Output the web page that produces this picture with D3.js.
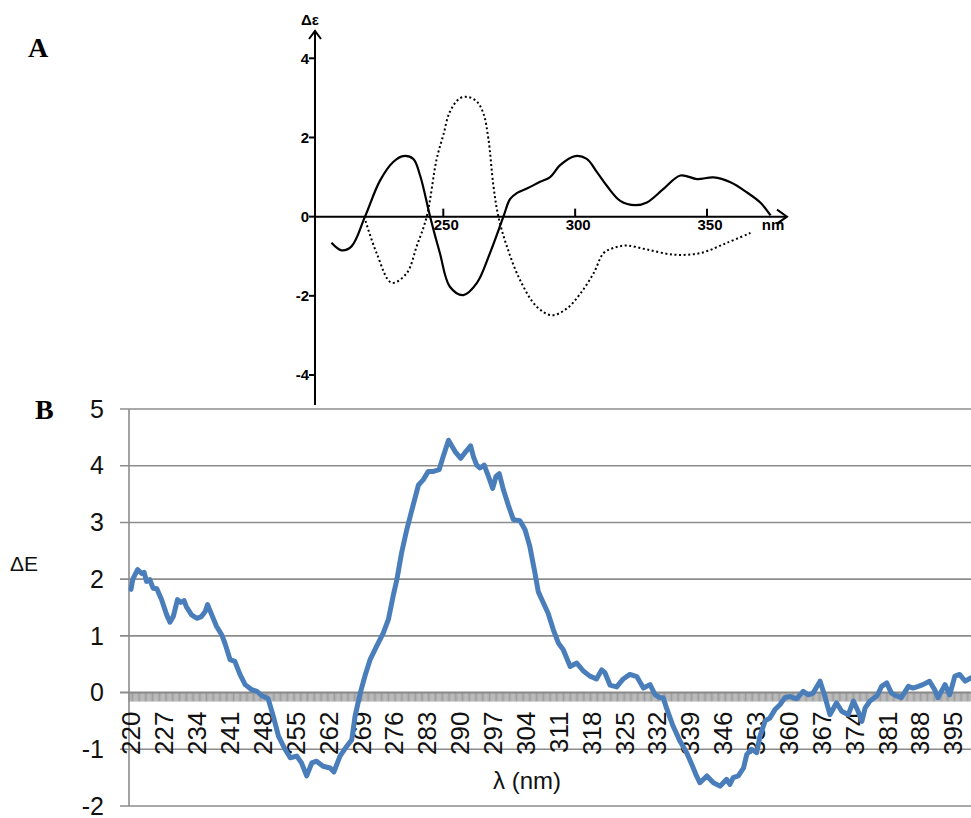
<!DOCTYPE html>
<html><head><meta charset="utf-8">
<script src="https://cdn.jsdelivr.net/npm/d3@7"></script>
<style>body{margin:0;background:#fff}svg{display:block}</style>
</head><body>
<svg id="chart" width="971" height="818"></svg>
<script>
// ---------- Panel A data (literature CD spectra) ----------
const aSolidWl = [207.6,211.4,215.2,220.3,226,231,234.8,238.6,241.2,245,248.7,252.5,257.6,262.7,267.7,272.8,275.3,278,281.7,286.7,290.5,294.3,300,304.4,308.2,312,317.1,322.8,327.2,333.5,339.9,346.2,352.5,358.9,365.2,370.3,374.1];
const aSolid   = [-0.66,-0.85,-0.75,0,0.91,1.38,1.53,1.46,1.04,0,-0.92,-1.77,-1.98,-1.68,-0.92,0,0.44,0.6,0.71,0.88,1.0,1.3,1.53,1.46,1.13,0.78,0.4,0.29,0.36,0.7,1.04,0.95,0.99,0.87,0.61,0.35,0.03];
const aDotWl   = [220,224.7,230.4,236.1,239.9,243.7,247.5,250,252.5,256.3,259.5,262.7,265.2,267.1,269,270.9,274.1,279.1,285.5,291.1,296.9,302,307,310.8,314.6,319.6,327.2,337.4,347.5,357.6,366.5];
const aDotted  = [0,-0.92,-1.67,-1.43,-0.75,0,1.46,2.06,2.65,2.99,3.02,2.91,2.61,1.97,0.78,0,-0.75,-1.6,-2.28,-2.49,-2.32,-1.94,-1.43,-0.92,-0.79,-0.73,-0.83,-0.96,-0.92,-0.66,-0.41];
const aYTicks = [4,2,0,-2,-4];
const aXTicks = [250,300,350];

// ---------- Panel B data (measured spectrum) ----------
const bWl = [220.0,220.4,221.4,222.3,222.8,223.3,224.0,224.7,225.5,226.5,227.6,228.3,229.0,229.9,230.6,231.3,231.8,232.9,234.0,235.0,235.8,236.3,237.2,238.2,239.3,240.0,241.1,242.1,243.2,244.3,245.7,246.8,247.8,249.2,250.3,251.4,252.8,253.9,255.3,256.3,257.4,258.5,259.5,260.9,262.4,263.2,264.5,265.9,267.0,267.7,268.8,269.8,270.9,272.3,273.7,274.8,275.8,276.6,277.6,278.7,279.8,281.2,282.2,283.3,284.4,285.6,286.5,287.6,289.0,290.2,291.3,292.3,292.9,293.6,294.3,295.2,296.1,297.0,297.7,298.4,299.3,300.3,301.4,302.8,303.9,304.9,306.0,306.7,307.8,308.8,309.9,311.0,312.0,313.5,314.9,316.3,317.7,319.1,320.2,320.9,322.0,323.4,324.8,326.2,327.7,329.1,330.5,331.6,332.6,333.3,334.0,335.4,336.9,338.3,339.4,340.4,341.1,342.6,344.0,345.4,346.8,347.5,348.2,349.3,350.4,351.1,352.1,353.2,353.9,355.0,356.0,357.1,358.2,359.2,360.3,361.7,363.1,364.2,365.2,366.7,367.7,368.8,370.2,371.3,372.7,373.8,374.8,375.6,376.3,377.3,378.8,379.8,380.9,381.9,383.0,384.0,385.5,386.5,387.6,388.6,390.0,391.1,391.8,393.3,394.3,395.4,396.4,397.6,398.8,400.0];
const bDelta = [1.82,2.0,2.17,2.10,2.12,1.96,1.99,1.84,1.83,1.64,1.37,1.24,1.34,1.64,1.59,1.62,1.51,1.37,1.31,1.34,1.43,1.55,1.37,1.17,1.02,0.87,0.58,0.55,0.32,0.14,0.05,0.02,-0.05,-0.11,-0.42,-0.77,-1.00,-1.15,-1.12,-1.24,-1.47,-1.24,-1.21,-1.30,-1.33,-1.40,-1.12,-0.95,-0.83,-0.42,-0.01,0.29,0.58,0.82,1.05,1.29,1.70,1.99,2.46,2.87,3.22,3.66,3.75,3.90,3.90,3.93,4.17,4.45,4.25,4.13,4.25,4.35,4.16,4.01,3.96,4.01,3.81,3.60,3.81,3.86,3.57,3.31,3.05,3.03,2.87,2.58,2.11,1.78,1.58,1.40,1.11,0.87,0.76,0.46,0.52,0.38,0.29,0.24,0.40,0.35,0.13,0.10,0.24,0.32,0.28,0.08,0.14,-0.04,-0.09,-0.09,-0.27,-0.59,-0.86,-1.06,-1.27,-1.47,-1.59,-1.47,-1.59,-1.65,-1.53,-1.62,-1.50,-1.47,-1.33,-1.09,-1.00,-1.06,-0.77,-0.50,-0.45,-0.30,-0.21,-0.09,-0.07,-0.11,0.02,-0.04,-0.01,0.20,-0.06,-0.39,-0.18,-0.33,-0.39,-0.15,-0.33,-0.51,-0.27,-0.15,-0.06,0.11,0.17,-0.01,-0.06,-0.09,0.11,0.08,0.11,0.14,0.20,0.05,-0.09,0.14,-0.04,0.29,0.32,0.20,0.26,0.24];
const bYTicks = [5,4,3,2,1,0,-1,-2];
const bXTickLabels = [220,227,234,241,248,255,262,269,276,283,290,297,304,311,318,325,332,339,346,353,360,367,374,381,388,395];

const W = 971, H = 818;
const svg = d3.select('#chart');
svg.append('rect').attr('width', W).attr('height', H).attr('fill', '#fff');

// ================= Panel A =================
const xA = d3.scaleLinear().domain([250, 350]).range([443.3, 707]);
const yA = d3.scaleLinear().domain([-4, 4]).range([375, 58.3]);
const gA = svg.append('g');
const axX = 315, axY = yA(0);
const fA = "'Liberation Sans', Arial, sans-serif";

gA.append('line').attr('x1', axX).attr('x2', axX).attr('y1', 405).attr('y2', 31)
  .attr('stroke', '#000').attr('stroke-width', 2);
gA.append('path').attr('d', `M${axX-6},${39} L${axX},${31} L${axX+6},${39}`)
  .attr('fill', 'none').attr('stroke', '#000').attr('stroke-width', 2);
gA.append('line').attr('x1', axX).attr('x2', 787).attr('y1', axY).attr('y2', axY)
  .attr('stroke', '#000').attr('stroke-width', 2);
gA.append('path').attr('d', `M777,${axY-7} L787,${axY} L777,${axY+7}`)
  .attr('fill', 'none').attr('stroke', '#000').attr('stroke-width', 2);

aYTicks.forEach(v => {
  gA.append('line').attr('x1', axX - 6).attr('x2', axX).attr('y1', yA(v)).attr('y2', yA(v))
    .attr('stroke', '#000').attr('stroke-width', 2);
  gA.append('text').attr('x', axX - 6).attr('y', yA(v)).attr('dy', '0.36em')
    .attr('text-anchor', 'end').attr('font-family', fA).attr('font-weight', 'bold')
    .attr('font-size', 15).text(String(v));
});
aXTicks.forEach(v => {
  gA.append('line').attr('x1', xA(v)).attr('x2', xA(v)).attr('y1', axY).attr('y2', axY - 8)
    .attr('stroke', '#000').attr('stroke-width', 2);
  gA.append('text').attr('x', xA(v) + 3).attr('y', axY + 13)
    .attr('text-anchor', 'middle').attr('font-family', fA).attr('font-weight', 'bold')
    .attr('font-size', 15).text(String(v));
});
gA.append('text').attr('x', 773).attr('y', axY + 13).attr('text-anchor', 'middle')
  .attr('font-family', fA).attr('font-weight', 'bold').attr('font-size', 15).text('nm');
gA.append('text').attr('x', 310).attr('y', 25).attr('text-anchor', 'middle')
  .attr('font-family', fA).attr('font-weight', 'bold').attr('font-size', 15).text('Δε');

const lineA = d3.line().x(d => xA(d[0])).y(d => yA(d[1])).curve(d3.curveCatmullRom.alpha(0.5));
gA.append('path').datum(d3.zip(aSolidWl, aSolid)).attr('d', lineA)
  .attr('fill', 'none').attr('stroke', '#000').attr('stroke-width', 2.2);
gA.append('path').datum(d3.zip(aDotWl, aDotted)).attr('d', lineA)
  .attr('fill', 'none').attr('stroke', '#000').attr('stroke-width', 2)
  .attr('stroke-dasharray', '2,2.6');

svg.append('text').attr('x', 28).attr('y', 57).attr('font-family', "'Liberation Serif', 'Times New Roman', serif")
  .attr('font-weight', 'bold').attr('font-size', 28).text('A');

// ================= Panel B =================
const xB = d3.scaleLinear().domain([220, 395]).range([131, 953]);
const yB = d3.scaleLinear().domain([-2, 5]).range([806, 409]);
const bLeft = 129, bRight = W;
const gB = svg.append('g');
const fB = "'Liberation Sans Narrow', 'Liberation Sans', Arial, sans-serif";
const gridCol = '#8c8c8c';

bYTicks.forEach(v => {
  gB.append('line').attr('x1', bLeft - 9).attr('x2', bRight).attr('y1', yB(v)).attr('y2', yB(v))
    .attr('stroke', gridCol).attr('stroke-width', v === 0 ? 2 : 1.6);
  gB.append('text').attr('x', 104).attr('y', yB(v)).attr('dy', '0.35em')
    .attr('text-anchor', 'end').attr('font-family', fB).attr('font-size', 25)
    .attr('fill', '#111').text(String(v));
});
gB.append('line').attr('x1', bLeft).attr('x2', bLeft).attr('y1', yB(5)).attr('y2', yB(-2))
  .attr('stroke', gridCol).attr('stroke-width', 1.6);

// dense category tick marks below the zero line
const y0 = yB(0);
const tickStep = 0.25;
const tickVals = d3.range(xB.invert(bLeft), xB.invert(bRight), tickStep);
gB.append('g').selectAll('line').data(tickVals).join('line')
  .attr('x1', d => xB(d)).attr('x2', d => xB(d)).attr('y1', y0).attr('y2', y0 + 9)
  .attr('stroke', '#858585').attr('stroke-width', 0.8);

bXTickLabels.forEach(v => {
  gB.append('text')
    .attr('transform', `translate(${xB(v)},${y0 + 19}) rotate(-90)`)
    .attr('text-anchor', 'end').attr('dy', '0.36em')
    .attr('font-family', fB).attr('font-size', 26).attr('fill', '#111').text(String(v));
});

gB.append('text').attr('x', 24).attr('y', 571).attr('text-anchor', 'middle')
  .attr('font-family', "'Liberation Sans', Arial, sans-serif").attr('font-size', 21).attr('fill', '#111').text('ΔE');
gB.append('text').attr('x', 527).attr('y', 789).attr('text-anchor', 'middle')
  .attr('font-family', "'Liberation Sans', Arial, sans-serif").attr('font-size', 24).attr('fill', '#111').text('λ (nm)');

const lineB = d3.line().x(d => xB(d[0])).y(d => yB(d[1]));
gB.append('path').datum(d3.zip(bWl, bDelta)).attr('d', lineB)
  .attr('fill', 'none').attr('stroke', '#4a7ebb').attr('stroke-width', 5)
  .attr('stroke-linejoin', 'round').attr('stroke-linecap', 'round');

svg.append('text').attr('x', 35).attr('y', 419).attr('font-family', "'Liberation Serif', 'Times New Roman', serif")
  .attr('font-weight', 'bold').attr('font-size', 28).text('B');
</script>
</body></html>
